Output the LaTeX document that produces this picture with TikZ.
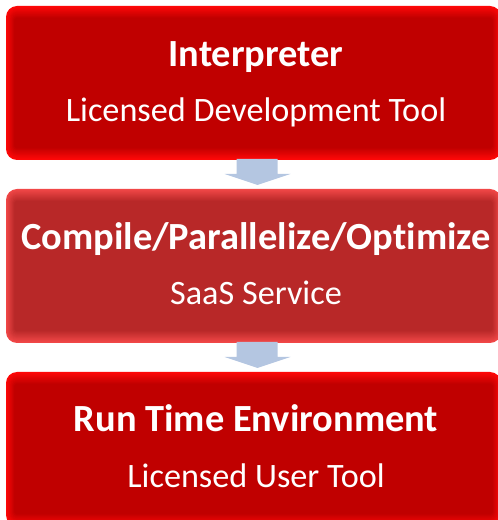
\documentclass[tikz,border=0pt]{standalone}
\usepackage{fontspec}
\setmainfont[Ligatures=NoCommon]{Carlito}
\usetikzlibrary{calc}
\definecolor{rimA}{HTML}{FF0808}
\definecolor{coreA}{HTML}{C00000}
\definecolor{rimB}{HTML}{F24848}
\definecolor{coreB}{HTML}{B82828}
\definecolor{flow}{HTML}{B4C6E1}
\tikzset{
  stage/.style={rectangle, inner sep=0pt, outer sep=0pt, minimum width=495pt},
  headline/.style={anchor=base, text=white, font=\bfseries\fontsize{38.4}{42}\selectfont},
  subline/.style={anchor=base, text=white, font=\fontsize{34.2}{38}\selectfont},
  flowarrow/.style={fill=flow, draw=none}
}
% soft red rim fading into a darker core
\newcommand{\glowfill}[3]{%
  \foreach \i in {0,...,14}{%
    \pgfmathtruncatemacro\mixp{\i*100/14}%
    \pgfmathsetmacro\rad{max(2,11-\i*0.6)}%
    \fill[#3!\mixp!#2, rounded corners=\rad pt]
      ($(#1.south west)+(\i*0.6,\i*0.85)$) rectangle ($(#1.north east)-(\i*0.6,\i*0.85)$);
  }%
}
% block arrow between two stages
\newcommand{\flowbetween}[2]{%
  \fill[flowarrow]
    ($(#1.south)+(-17,1)$) -- ($(#1.south)+(24,1)$) --
    ($(#2.north)+(24,15)$) -- ($(#2.north)+(37,15)$) --
    ($(#2.north)+(4,4)$) --
    ($(#2.north)+(-29,15)$) -- ($(#2.north)+(-17,15)$) -- cycle;
}
\begin{document}
\begin{tikzpicture}[x=1pt,y=1pt]
  \useasboundingbox (0,0) rectangle (498,520);
  \begin{scope}
    \clip (0,0) rectangle (498,520);
    \node[stage, minimum height=154pt] (b1) at (253.5,437) {};
    \node[stage, minimum height=154pt] (b2) at (253.5,254) {};
    \node[stage, minimum height=154pt] (b3) at (253.5,71) {};
    \glowfill{b1}{rimA}{coreA}
    \glowfill{b2}{rimB}{coreB}
    \glowfill{b3}{rimA}{coreA}
  \end{scope}
  \flowbetween{b1}{b2}
  \flowbetween{b2}{b3}

  \node[headline] (t1) at (256,453) {Interpreter};
  \node[subline]  (s1) at (256,398) {Licensed Development Tool};
  \node[headline] (t2) at (256,270) {Compile/Parallelize/Optimize};
  \node[subline]  (s2) at (256,215) {SaaS Service};
  \node[headline] (t3) at (256,88) {Run Time Environment};
  \node[subline]  (s3) at (256,32) {Licensed User Tool};
\end{tikzpicture}
\end{document}
